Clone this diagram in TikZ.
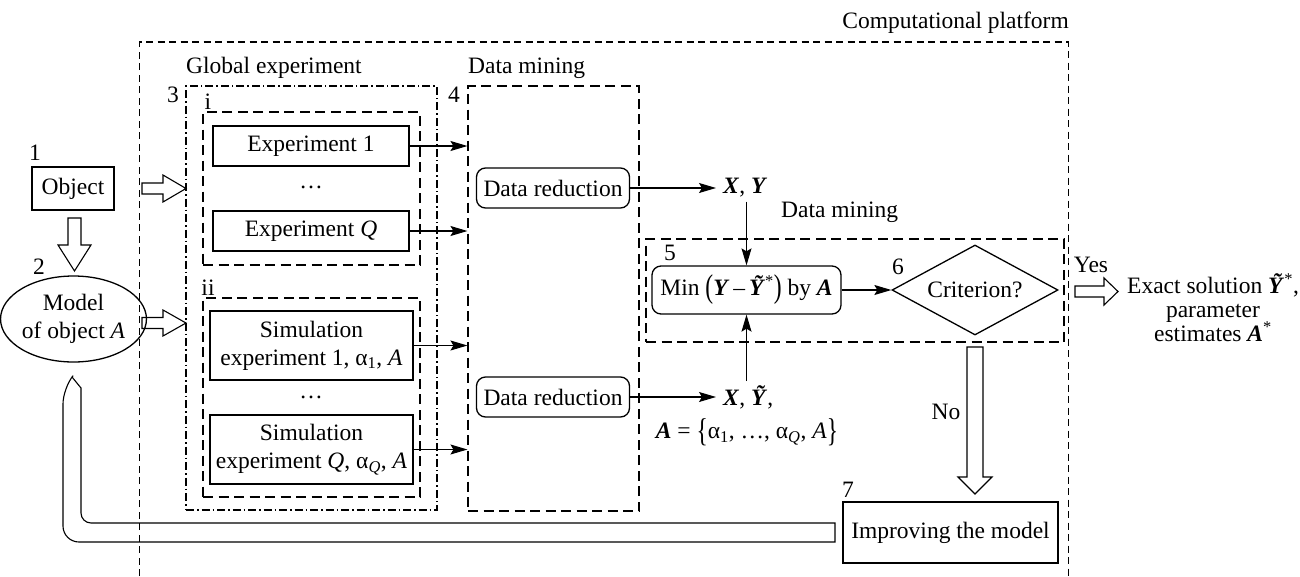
\documentclass[tikz,border=0pt]{standalone}
\usepackage{fontspec}
\setmainfont{Liberation Serif}
\usepackage{graphicx}
\usetikzlibrary{shapes.geometric,arrows.meta,calc}

% bold italic symbols and stretched delimiters
\newcommand\bi[1]{\textbf{\textit{#1}}}
\newcommand\tallsym[1]{\raisebox{-0.25ex}{\scalebox{1}[1.4]{#1}}}

\begin{document}
\begin{tikzpicture}[x=1pt,y=-1pt,
  every node/.style={font=\fontsize{23.5}{28}\selectfont, inner sep=0pt},
  box/.style={draw, line width=1.3pt, align=center},
  rbox/.style={box, rounded corners=9pt},
  thinarrow/.style={line width=1.1pt, -{Stealth[length=17pt,width=10pt,inset=3pt]}},
  hollow/.style={draw, line width=1.1pt, line join=miter},
  platform/.style={line width=1.1pt, dash pattern=on 7pt off 4.5pt},
  groupbox/.style={draw, line width=1.1pt, dash pattern=on 10pt off 5.5pt},
  dashdotbox/.style={draw, line width=1.1pt, dash pattern=on 8pt off 3pt on 1.5pt off 3pt},
  tag/.style={}
]
\useasboundingbox (0,0) rectangle (1300,576);
\fill[white] (0,0) rectangle (1300,576);

% computational platform (open at the bottom)
\draw[platform] (139.5,576) -- (139.5,42) -- (1068.5,42) -- (1068.5,576);
\node[anchor=east] (platlbl) at (1069,23) {Computational platform};

% group boxes
\node[dashdotbox, minimum width=251pt, minimum height=424pt] (box3) at (311.5,298) {};
\node[groupbox, minimum width=217pt, minimum height=153pt] (boxi) at (311.5,188.5) {};
\node[groupbox, minimum width=217pt, minimum height=199pt] (boxii) at (311.5,397.5) {};
\node[groupbox, minimum width=171pt, minimum height=425pt] (box4) at (553.5,298.5) {};
\node[groupbox, minimum width=418pt, minimum height=103pt] (box5) at (855,290.5) {};

\node[anchor=west] (globlbl) at (186,68) {Global experiment};
\node[anchor=west] (dmlbl) at (468,68) {Data mining};
\node[anchor=west] (dmlbl2) at (781,212) {Data mining};

% numbered tags
\node[tag] (t1) at (35,153) {1};
\node[tag] (t2) at (39,267) {2};
\node[tag] (t3) at (173,95) {3};
\node[tag] (ti) at (208,102) {i};
\node[tag] (tii) at (208,288) {ii};
\node[tag] (t4) at (454,95) {4};
\node[tag] (t5) at (670,253) {5};
\node[tag] (t6) at (898,267) {6};
\node[tag] (t7) at (848,490) {7};

% object and model
\node[box, minimum width=82pt, minimum height=43pt] (obj) at (73,188.5) {Object};
\node[draw, line width=1.3pt, ellipse, minimum width=127pt, minimum height=86pt, align=center] (model) at (73.5,319) {Model\\of object \textit{A}};

% experiments
\node[box, minimum width=196pt, minimum height=40pt] (exp1) at (311,146) {Experiment 1};
\node (dots1) at (311,187) {…};
\node[box, minimum width=196pt, minimum height=40pt] (expQ) at (311,231) {Experiment \textit{Q}};
\node[box, minimum width=203pt, minimum height=69pt] (sim1) at (311.5,345.5) {Simulation\\experiment 1, α\textsubscript{1}, \textit{A}};
\node (dots2) at (311,397) {…};
\node[box, minimum width=203pt, minimum height=69pt] (simQ) at (311.5,449.5) {Simulation\\experiment \textit{Q}, α\textsubscript{\textit{Q}}, \textit{A}};

% data reduction
\node[rbox, minimum width=153pt, minimum height=40pt] (dr1) at (553,188) {Data reduction};
\node[rbox, minimum width=153pt, minimum height=40pt] (dr2) at (553,397) {Data reduction};

\node[anchor=west, inner xsep=7pt, inner ysep=4pt] (xy1) at (716,188) {\bi{X}, \bi{Y}};
\node[anchor=west, inner xsep=7pt, inner ysep=4pt] (xy2) at (716,397) {\bi{X}, \bi{Ỹ},};
\node (aset) at (747,432) {\bi{A} = \tallsym{\{}α\textsubscript{1}, …, α\textsubscript{\textit{Q}}, \textit{A}\tallsym{\}}};

% optimisation and criterion
\node[rbox, minimum width=189pt, minimum height=48pt] (min) at (746.5,290) {Min \tallsym{(}\bi{Y}\,–\,\bi{Ỹ}\textsuperscript{*}\tallsym{)} by \bi{A}};
\node[draw, line width=1.3pt, diamond, aspect=1.84, minimum width=166pt, minimum height=90pt] (crit) at (975,290) {Criterion?};

\node[box, minimum width=215pt, minimum height=61pt] (impr) at (950.5,532.5) {Improving the model};

\node (yes) at (1091,265) {Yes};
\node (no) at (946,412) {No};
\node[align=center] (exact) at (1213,308) {Exact solution \bi{Ỹ}\textsuperscript{*},\\[-4pt]parameter\\[-4pt]estimates \bi{A}\textsuperscript{*}};

% thin connectors
\draw[thinarrow] (exp1.east) -- (exp1.east -| box4.west);
\draw[thinarrow] (expQ.east) -- (expQ.east -| box4.west);
\draw[thinarrow] (sim1.east) -- (sim1.east -| box4.west);
\draw[thinarrow] (simQ.east) -- (simQ.east -| box4.west);
\draw[thinarrow] (dr1.east) -- (xy1.west);
\draw[thinarrow] (dr2.east) -- (xy2.west);
\draw[thinarrow] (min.north |- xy1.south) -- (min.north);
\draw[thinarrow] (min.south |- xy2.north) -- (min.south);
\draw[thinarrow] (min.east) -- (crit.west);

% hollow arrows
\draw[hollow] (68,218) -- (81,218) -- (81,245) -- (91,245) -- (74.5,271) -- (58,245) -- (68,245) -- cycle;
\draw[hollow] (142,183) -- (163,183) -- (163,175) -- (186,188.5) -- (163,202) -- (163,194) -- (142,194) -- cycle;
\draw[hollow] (142,317.5) -- (163,317.5) -- (163,310) -- (186,323) -- (163,336) -- (163,328.5) -- (142,328.5) -- cycle;
\draw[hollow] (1075,286) -- (1104,286) -- (1104,278) -- (1118,291.5) -- (1104,305) -- (1104,297) -- (1075,297) -- cycle;
\draw[hollow] (967,347) -- (983,347) -- (983,477) -- (992,477) -- (975,494) -- (958,477) -- (967,477) -- cycle;

% feedback from improving the model back to the model
\draw[hollow] (835,542) [rounded corners=16pt] -- (63,542) -- (63,388) [sharp corners] -- (72,377) -- (81,388) [rounded corners=10pt] -- (81,523) [sharp corners] -- (835,523) -- cycle;
\end{tikzpicture}
\end{document}
